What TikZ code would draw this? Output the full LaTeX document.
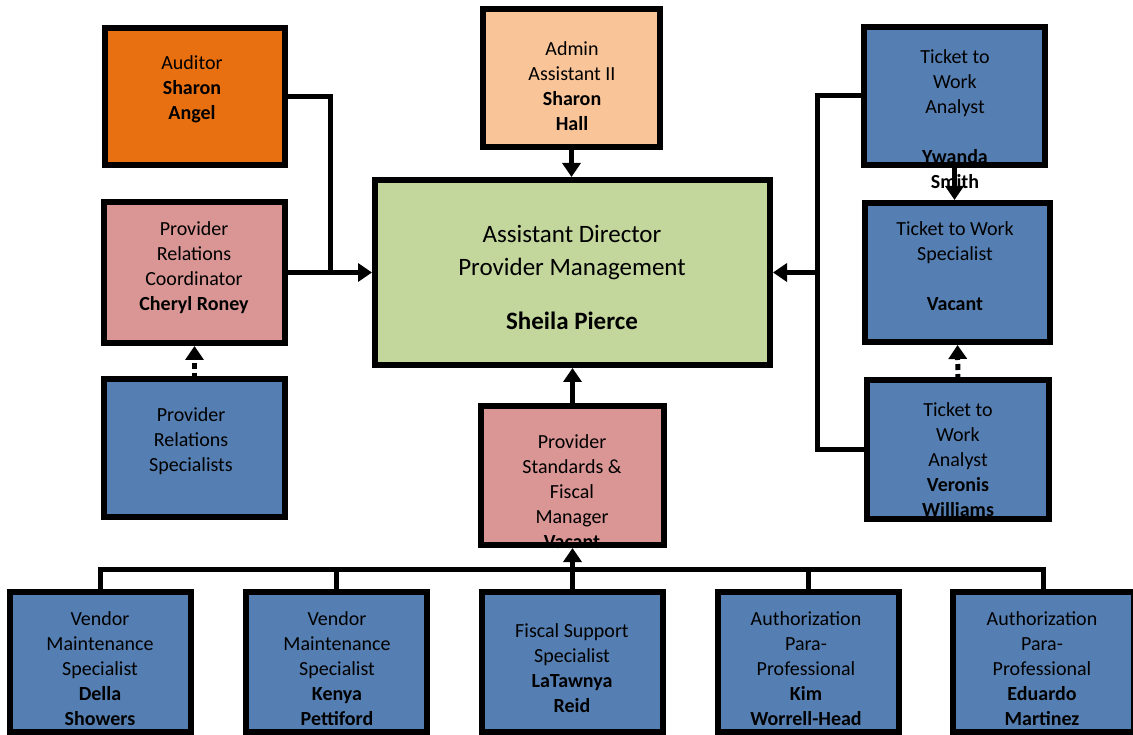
\documentclass[tikz,border=0pt]{standalone}
\usepackage{fontspec}
\setmainfont{Carlito}
\usetikzlibrary{arrows.meta}
\definecolor{cOrange}{HTML}{E97010}
\definecolor{cPeach}{HTML}{F8C498}
\definecolor{cBlue}{HTML}{557FB2}
\definecolor{cPink}{HTML}{D99694}
\definecolor{cGreen}{HTML}{C3D69B}
\tikzset{
  box/.style={draw=black, line width=6pt, inner sep=0pt, outer sep=0pt},
  border/.style={draw=black, line width=6pt},
  txt/.style={align=center, font=\fontsize{20}{25}\selectfont, inner sep=0pt, text=black, yshift=-1.5pt},
  bigtxt/.style={align=center, font=\fontsize{25}{33}\selectfont, inner sep=0pt, text=black},
  con/.style={line width=5pt},
  arr/.style={con, -{Triangle[width=18pt,length=14pt]}, shorten >=3pt},
  darr/.style={arr, dash pattern=on 6pt off 4pt},
}
\begin{document}
\begin{tikzpicture}[x=1pt,y=-1pt]
\useasboundingbox (0,0) rectangle (1133,735);
% boxes
\node[box, fill=cOrange, minimum width=180pt, minimum height=137pt] (aud) at (195,96.5) {};
\node[box, fill=cPeach, minimum width=177pt, minimum height=138pt] (adm) at (571.5,78) {};
\node[box, fill=cBlue, minimum width=181pt, minimum height=138pt] (tta) at (954.5,96) {};
\node[box, fill=cPink, minimum width=181pt, minimum height=141pt] (prc) at (194.5,272.5) {};
\node[box, fill=cBlue, minimum width=181pt, minimum height=138pt] (prs) at (194.5,448) {};
\node[box, fill=cGreen, minimum width=395pt, minimum height=185pt] (cen) at (572.5,272.5) {};
\node[box, fill=cBlue, minimum width=185pt, minimum height=139pt] (tts) at (957.5,272.5) {};
\node[box, fill=cBlue, minimum width=182pt, minimum height=139pt] (ttb) at (958,449.5) {};
\node[box, fill=cPink, minimum width=183pt, minimum height=139pt] (std) at (572.5,475.5) {};
\node[box, fill=cBlue, minimum width=181pt, minimum height=140pt] (del) at (100.5,662) {};
\node[box, fill=cBlue, minimum width=181pt, minimum height=140pt] (ken) at (336.5,662) {};
\node[box, fill=cBlue, minimum width=181pt, minimum height=140pt] (fis) at (572.5,662) {};
\node[box, fill=cBlue, minimum width=181pt, minimum height=140pt] (kim) at (808,662) {};
\node[box, fill=cBlue, minimum width=181pt, minimum height=140pt] (edu) at (1043.5,662) {};
% texts
\node[txt] (t-aud) at (192,88) {Auditor\\\textbf{Sharon}\\\textbf{Angel}};
\node[txt] (t-adm) at (572,84.5) {Admin\\Assistant II\\\textbf{Sharon}\\\textbf{Hall}};
\node[txt] (t-tta) at (955,117.5) {Ticket to\\Work\\Analyst\\[25pt]\textbf{Ywanda}\\\textbf{Smith}};
\node[txt] (t-prc) at (194,266.5) {Provider\\Relations\\Coordinator\\\textbf{Cheryl Roney}};
\node[bigtxt] (t-cen) at (572,277.5) {Assistant Director\\Provider Management\\[21pt]\textbf{Sheila Pierce}};
\node[txt] (t-tts) at (955,265) {Ticket to Work\\Specialist\\[25pt]\textbf{Vacant}};
\node[txt] (t-prs) at (191,439.5) {Provider\\Relations\\Specialists};
\node[txt] (t-std) at (572,490) {Provider\\Standards \&\\Fiscal\\Manager\\\textbf{Vacant}};
\node[txt] (t-ttb) at (958,458) {Ticket to\\Work\\Analyst\\\textbf{Veronis}\\\textbf{Williams}};
\node[txt] (t-del) at (100,667) {Vendor\\Maintenance\\Specialist\\\textbf{Della}\\\textbf{Showers}};
\node[txt] (t-ken) at (337,667) {Vendor\\Maintenance\\Specialist\\\textbf{Kenya}\\\textbf{Pettiford}};
\node[txt] (t-fis) at (572,666.5) {Fiscal Support\\Specialist\\\textbf{LaTawnya}\\\textbf{Reid}};
\node[txt] (t-kim) at (806,667) {Authorization\\Para-\\Professional\\\textbf{Kim}\\\textbf{Worrell-Head}};
\node[txt] (t-edu) at (1042,667) {Authorization\\Para-\\Professional\\\textbf{Eduardo}\\\textbf{Martinez}};
% borders over text
\foreach \n in {aud,adm,tta,prc,prs,cen,tts,ttb,std,del,ken,fis,kim,edu}
  \draw[border] (\n.north west) rectangle (\n.south east);
% connectors
\coordinate (ja) at (330,272.5);
\coordinate (jr) at (817,272.5);
\draw[con] (aud.east) -| (ja);
\draw[arr] (prc.east) -- (cen.west);
\draw[arr] (adm.south) -- (adm.south |- cen.north);
\draw[con] (tta.west) -| (jr |- ttb.west) -- (ttb.west);
\draw[arr] (jr) -- (cen.east);
\draw[arr] (tta.south) -- (tta.south |- tts.north);
\draw[darr] (ttb.north) -- (tts.south);
\draw[darr] (prs.north) -- (prc.south);
\draw[arr] (std.north) -- (cen.south);
\draw[con] (del.north) |- (edu.north |- 0,569) -- (edu.north);
\draw[con] (ken.north) -- (ken.north |- 0,569);
\draw[con] (kim.north) -- (kim.north |- 0,569);
\draw[arr] (fis.north) -- (std.south);
\end{tikzpicture}
\end{document}
